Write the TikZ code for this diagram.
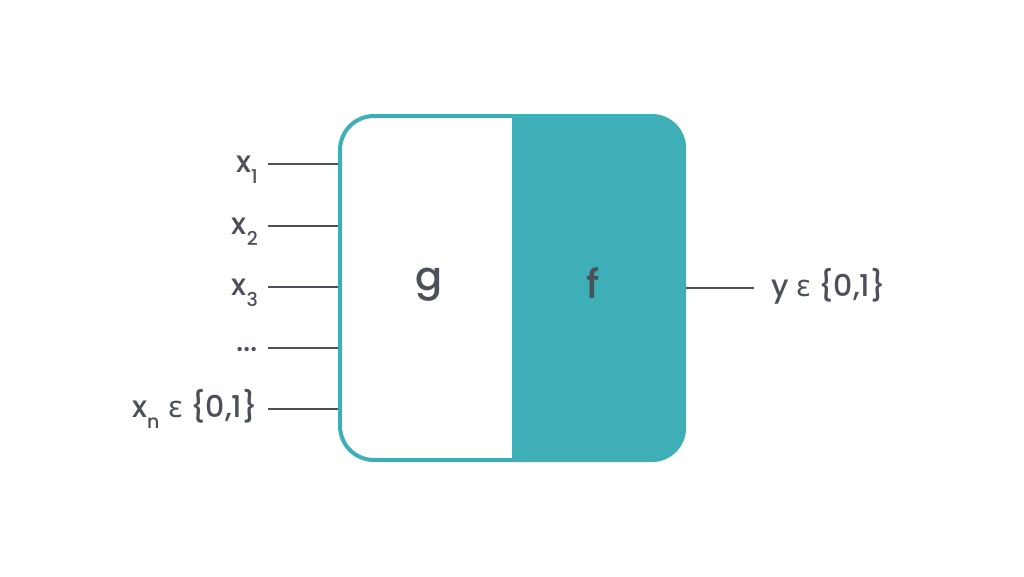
\documentclass[tikz,border=0pt]{standalone}
\usepackage{fontspec}
\setmainfont{Poppins}[UprightFont={* Medium}]
\newfontfamily\grk{Noto Sans}
\usetikzlibrary{positioning}

\definecolor{boxteal}{HTML}{3EAFB7}
\definecolor{inkgray}{HTML}{4B5059}

\newcommand{\lowidx}[1]{\smash{\raisebox{-11pt}{\fontsize{19}{22}\selectfont #1}}}
\newcommand{\eps}{{\grk ε}}

\tikzset{
  label/.style={text=inkgray, font=\fontsize{30}{36}\selectfont, text height=16pt, text depth=0pt},
  wire/.style={draw=inkgray, line width=2.6pt},
}

\begin{document}
\begin{tikzpicture}[x=1pt, y=-1pt]
	\useasboundingbox (0,0) rectangle (1024,576);
	% right half filled
	\begin{scope}
		\clip[rounded corners=34pt] (338,114) rectangle (686,462);
		\fill[boxteal] (512,114) rectangle (686,462);
	\end{scope}
	\node (gate) [draw=boxteal, line width=4pt, rounded corners=34pt, minimum width=344pt, minimum height=344pt, inner sep=0pt] at (512,288) {};
	\node (g) [text=inkgray, font=\fontsize{40}{46}\selectfont] at (429,285) {g};
	\node (f) [text=inkgray, font=\fontsize{40}{46}\selectfont] at (593,283) {f};
	% inputs
	\foreach \i/\y/\txt in {1/164/{x\lowidx{1}}, 2/226/{x\lowidx{2}}, 3/287/{x\lowidx{3}}, 4/348/{\smash{\raisebox{5pt}{...}}}, 5/409/{x\lowidx{n}\hspace{9pt}\eps\ \{0,1\}}}{
		\node (in\i) [label, anchor=east, inner xsep=10pt] at (268,\y) {\txt};
		\draw[wire] (in\i.east) -- (gate.west |- in\i.east);
	}
	% output
	\node (out) [label, anchor=west, inner xsep=17pt] at (754,288) {y \eps\ \{0,1\}};
	\draw[wire] (gate.east |- out.west) -- (out.west);
\end{tikzpicture}
\end{document}
